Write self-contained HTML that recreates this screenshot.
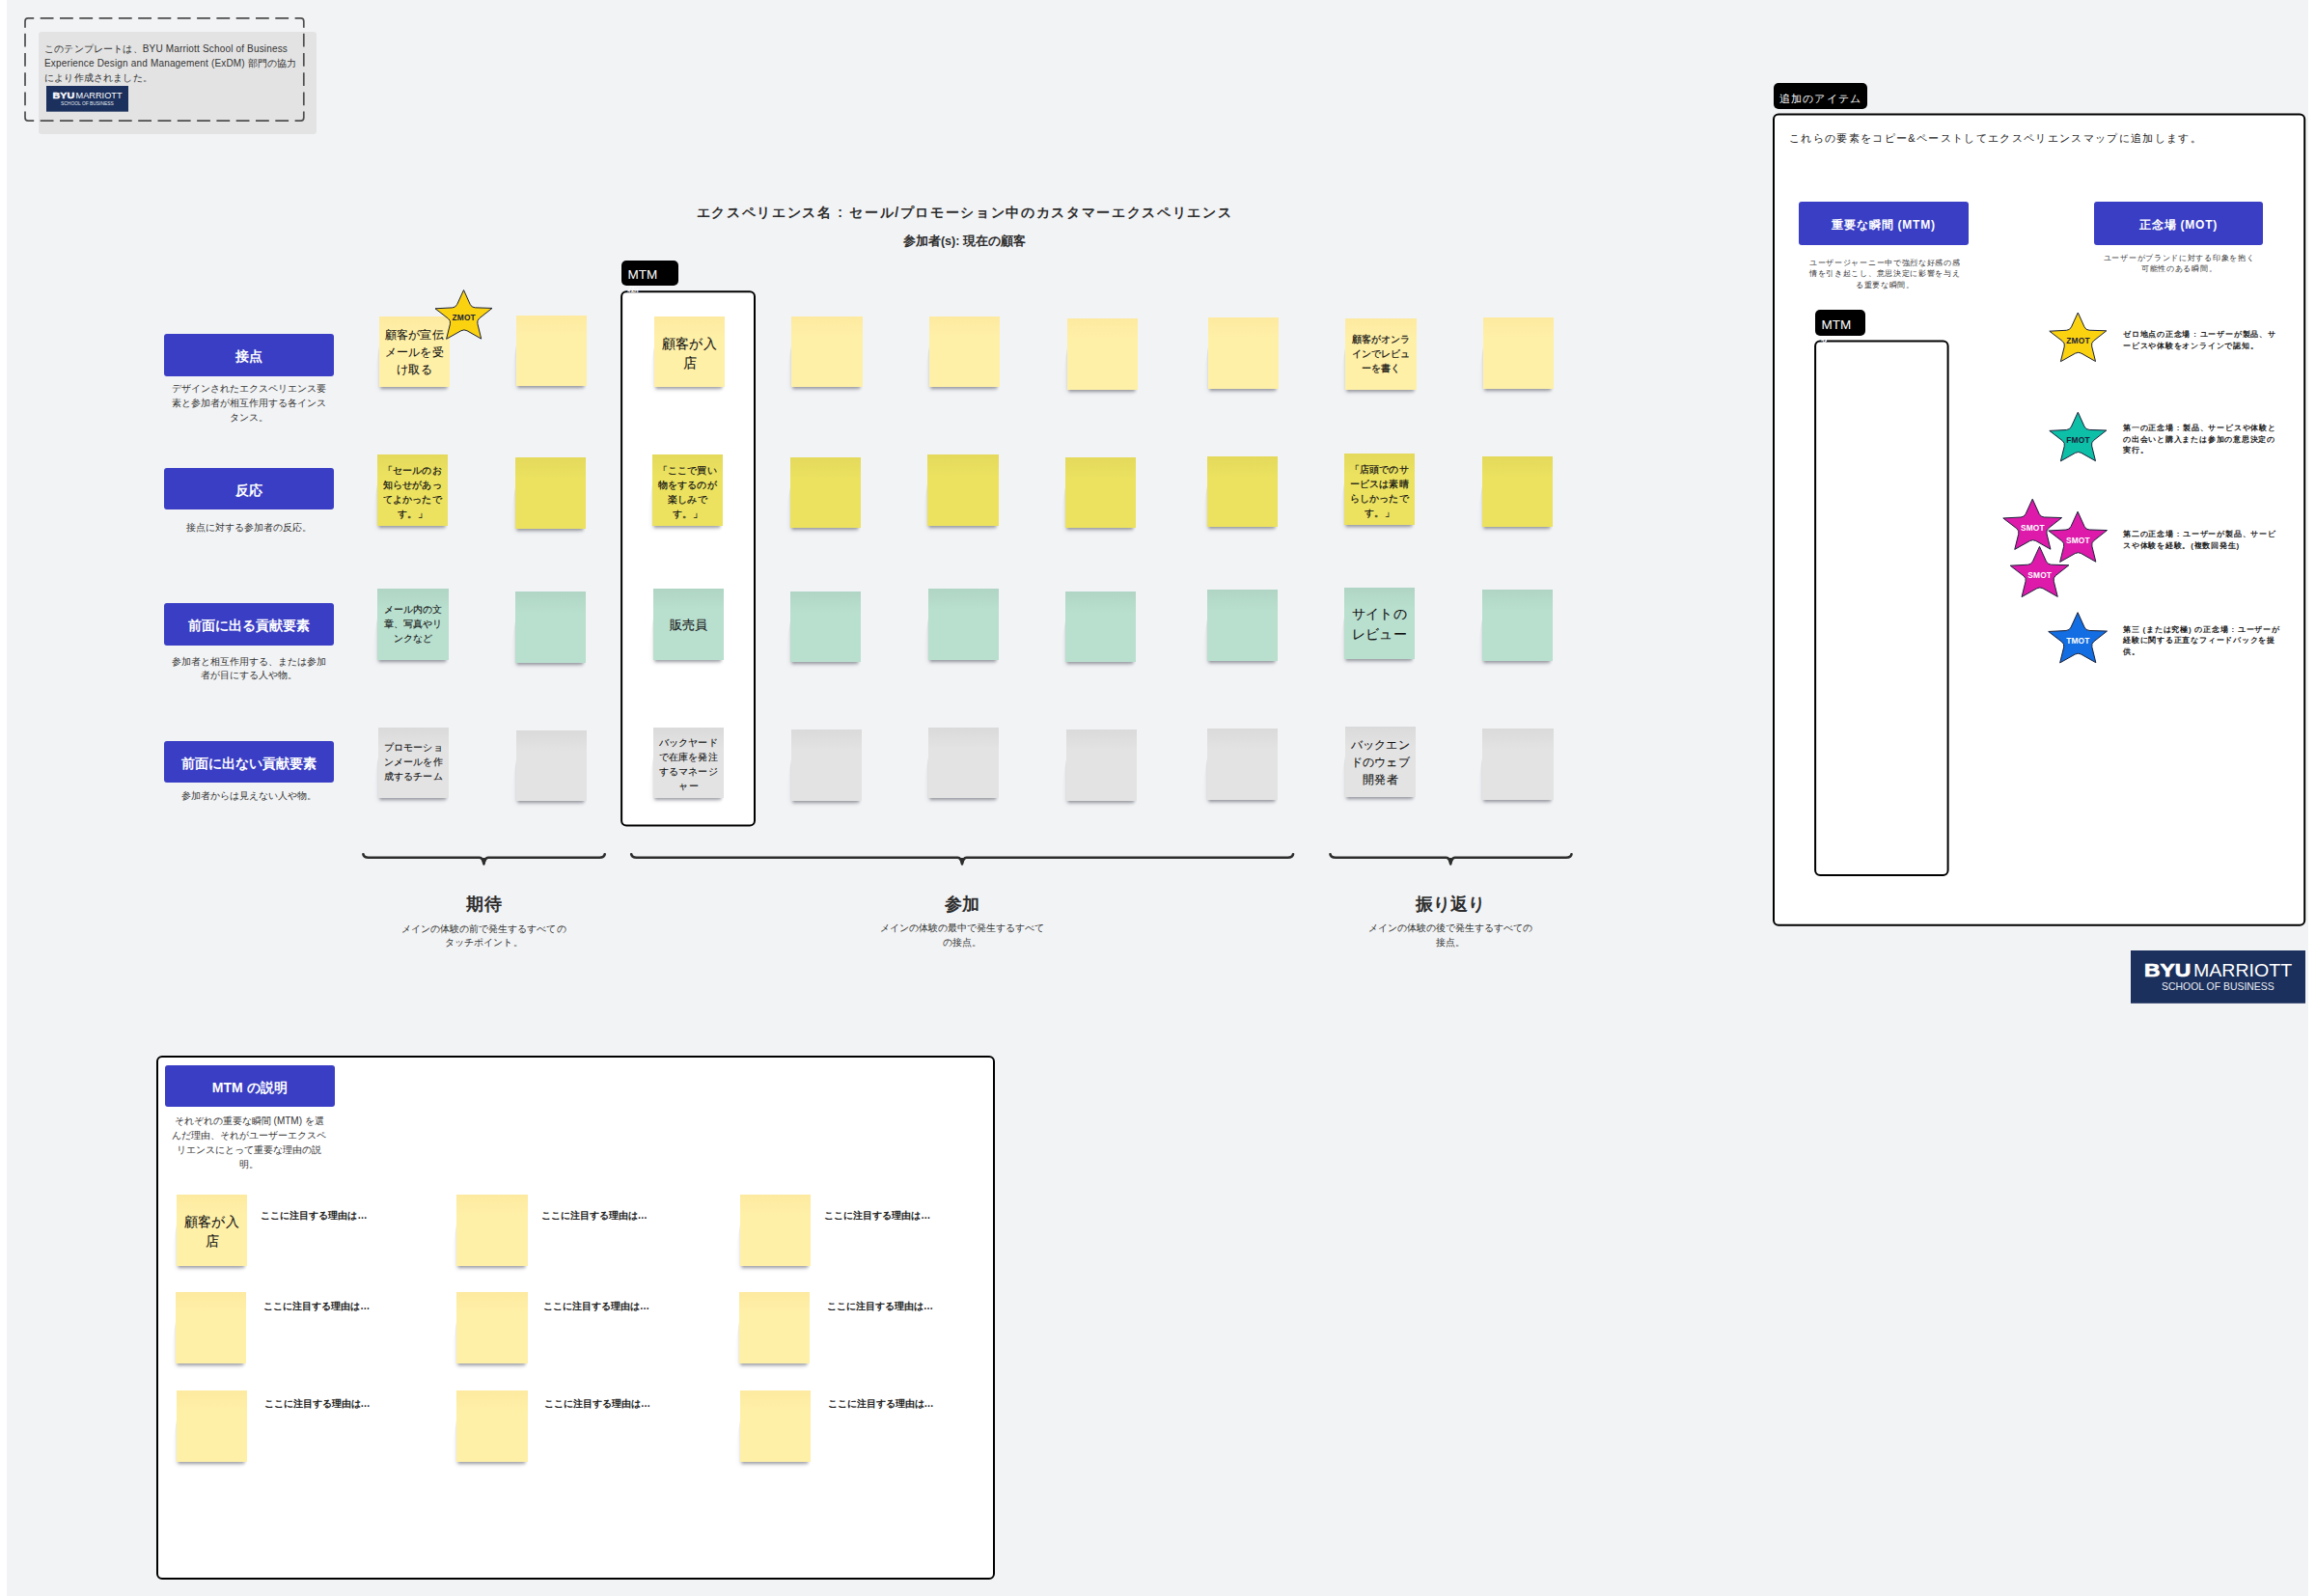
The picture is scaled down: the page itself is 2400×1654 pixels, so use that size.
<!DOCTYPE html><html lang="ja"><head><meta charset="utf-8"><title>Experience Map</title><style>
*{box-sizing:border-box;margin:0;padding:0}
html,body{width:2400px;height:1654px;background:#fff;overflow:hidden}
body{font-family:"Liberation Sans",sans-serif;color:#333;position:relative}
#bg{position:absolute;left:7px;top:0;width:2385px;height:1654px;background:#f2f3f5}
.a{position:absolute}
.svg{position:absolute;left:0;top:0;width:2400px;height:1654px;overflow:visible}
.st{position:absolute;color:#111;clip-path:polygon(0 0,100% 0,100% 120%,-8px 120%,-8px 100%,0 42%);

 box-shadow:-1px 3.5px 3px -1.5px rgba(38,42,58,.38),-2.5px 5px 5px -2.5px rgba(38,42,58,.12)}
.t{position:absolute;left:-20px;right:-20px;text-align:center;white-space:nowrap;-webkit-text-stroke:.1px #111}
.y1{background:linear-gradient(#fdeaa0 0,#fff0a8 30%,#fff0a8 100%)}
.y2{background:linear-gradient(#e4d95b 0,#ece260 30%,#ece260 100%)}
.g{background:linear-gradient(#b0d5c4 0,#b9dfcf 30%,#b9dfcf 100%)}
.k{background:linear-gradient(#dadada 0,#e3e3e3 30%,#e3e3e3 100%)}
.lb{position:absolute;padding-top:3px;background:#3a3ec4;border-radius:3px;color:#fff;font-weight:bold;font-size:14px;line-height:20px;display:flex;align-items:center;justify-content:center;white-space:nowrap}
.d{position:absolute;text-align:center;font-size:10px;line-height:14.8px;color:#333;white-space:nowrap}
.ph{position:absolute;text-align:center;font-size:18px;font-weight:bold;color:#2d2d2d;white-space:nowrap;line-height:24px}
.why{position:absolute;font-size:10px;font-weight:bold;color:#222;white-space:nowrap;line-height:14px}
.j{display:block;white-space:nowrap;text-align:justify;text-align-last:justify}
.jc{margin:0 auto}
.p{display:block;white-space:nowrap}
.tag{position:absolute;background:#000;border-radius:5px;color:#fff;white-space:nowrap}
.sd{position:absolute;font-size:8px;font-weight:bold;letter-spacing:.78px;line-height:11.5px;color:#222;white-space:nowrap}
.pd{position:absolute;text-align:center;font-size:8px;letter-spacing:.7px;line-height:11.5px;color:#333;white-space:nowrap}
</style></head><body><div id="bg"></div>
<div class="a" style="left:40px;top:32.5px;width:288.2px;height:106.2px;background:#e3e3e3;border-radius:3px"></div>
<div class="a" style="left:46px;top:43.1px;font-size:10px;line-height:15.1px;letter-spacing:.17px;color:#333;white-space:nowrap"><div class="j" style="width:252.06px">このテンプレートは、BYU Marriott School of Business</div><div class="j" style="width:261.67px">Experience Design and Management (ExDM) 部門の協力</div><div class="j" style="width:111.9px">により作成されました。</div></div>
<svg class="a" style="left:48px;top:89.2px" width="85" height="26.7" viewBox="0 0 181 54.8" preserveAspectRatio="none"><rect width="181" height="54.8" fill="#1b305c"/><text x="13.9" y="27.3" font-family="Liberation Sans" font-weight="bold" font-size="19" fill="#fff" stroke="#fff" stroke-width=".7" textLength="48.3" lengthAdjust="spacingAndGlyphs">BYU</text><text x="65" y="27.3" font-family="Liberation Sans" font-size="19" fill="#fff" textLength="102.2" lengthAdjust="spacingAndGlyphs">MARRIOTT</text><text x="32.1" y="41.4" font-family="Liberation Sans" font-size="10" fill="#e8ebf2" textLength="116.6" lengthAdjust="spacingAndGlyphs">SCHOOL OF BUSINESS</text></svg>
<svg class="svg" viewBox="0 0 2400 1654">
<g fill="none" stroke="#4d4d4d" stroke-width="1.7"><path d="M26,28.7V22Q26,18.9 29.1,18.9H35.2M305.6,18.9H311.7Q314.8,18.9 314.8,22V28.7M26,115.5V122Q26,125.1 29.1,125.1H35.2M305.6,125.1H311.7Q314.8,125.1 314.8,122V115.5"/><path d="M41.7,18.9H299.2M41.7,125.1H299.2" stroke-dasharray="13.8 6.5"/><path d="M26,34.8V109.3M314.8,34.8V109.3" stroke-dasharray="13.8 6.4"/></g>
<rect x="644.1" y="302.2" width="137.9" height="553.3" rx="5" fill="#fff" stroke="#000" stroke-width="2"/>
<rect x="163" y="1095" width="867" height="541" rx="5" fill="#fff" stroke="#000" stroke-width="2"/>
<rect x="1838" y="118.4" width="550.2" height="840.3" rx="5" fill="#fff" stroke="#000" stroke-width="2"/>
<rect x="1881.1" y="353.6" width="137.5" height="553.5" rx="5" fill="#fff" stroke="#000" stroke-width="2"/>
<path d="M376.4,885.2 Q376.7,888.7 381.9,888.7 H496.9 Q500.4,888.9 501.4,895.3 Q502.4,888.9 505.9,888.7 H621.2 Q626.4,888.7 626.7,885.2" fill="none" stroke="#2d2d2d" stroke-width="2.6" stroke-linecap="round" stroke-linejoin="round"/><path d="M498.1,888.9 L504.7,888.9 L501.4,897.3 Z" fill="#2d2d2d"/>
<path d="M654.2,885.2 Q654.5,888.7 659.7,888.7 H992.5 Q996,888.9 997,895.3 Q998,888.9 1001.5,888.7 H1334.5 Q1339.7,888.7 1340,885.2" fill="none" stroke="#2d2d2d" stroke-width="2.6" stroke-linecap="round" stroke-linejoin="round"/><path d="M993.7,888.9 L1000.3,888.9 L997,897.3 Z" fill="#2d2d2d"/>
<path d="M1378.5,885.2 Q1378.8,888.7 1384,888.7 H1498.7 Q1502.2,888.9 1503.2,895.3 Q1504.2,888.9 1507.7,888.7 H1623 Q1628.2,888.7 1628.5,885.2" fill="none" stroke="#2d2d2d" stroke-width="2.6" stroke-linecap="round" stroke-linejoin="round"/><path d="M1499.9,888.9 L1506.5,888.9 L1503.2,897.3 Z" fill="#2d2d2d"/>
</svg>
<div class="a" style="left:599.6px;top:210.4px;width:800px;text-align:center;font-size:14px;line-height:20px;font-weight:bold;letter-spacing:1.67px;color:#2d2d2d;white-space:nowrap"><div class="j jc" style="width:555.82px">エクスペリエンス名 : セール/プロモーション中のカスタマーエクスペリエンス</div></div>
<div class="a" style="left:799.4px;top:241px;width:400px;text-align:center;font-size:12.5px;line-height:18px;font-weight:bold;color:#2d2d2d;white-space:nowrap"><div class="j jc" style="width:126.95px">参加者(s): 現在の顧客</div></div>
<div class="tag" style="left:644px;top:269.8px;width:59.2px;height:26.5px;font-size:13.5px;line-height:16px;padding:7.6px 0 0 6.4px">MTM</div>
<div class="tag" style="left:1881.1px;top:321.3px;width:51.6px;height:26.3px;font-size:13.5px;line-height:16px;padding:7.4px 0 0 6.4px">MTM</div>
<div class="a" style="left:650.3px;top:296px;width:12px;height:7.2px;overflow:hidden;color:#fff;font-size:13.5px;line-height:16px"><div style="margin-top:-1.5px">例</div></div>
<div class="a" style="left:1887px;top:347.6px;width:6px;height:7.2px;overflow:hidden;color:#fff;font-size:13.5px;line-height:16px"><div style="margin-top:-1.5px">例</div></div>
<div class="tag" style="left:1837.8px;top:86.3px;width:97.4px;height:26.5px;font-size:11px;letter-spacing:1.2px;line-height:16px;padding:7.6px 0 0 6px"><div class="j" style="width:85.43px">追加のアイテム</div></div>
<div class="lb" style="left:170px;top:345.8px;width:175.7px;height:43.9px"><div class="j jc" style="width:28.02px">接点</div></div>
<div class="d" style="left:107.8px;top:396.1px;width:300px;line-height:14.8px"><div class="j jc" style="width:160.02px">デザインされたエクスペリエンス要</div><div class="j jc" style="width:160.02px">素と参加者が相互作用する各インス</div><div class="j jc" style="width:40.02px">タンス。</div></div>
<div class="lb" style="left:170px;top:485px;width:175.7px;height:43.4px"><div class="j jc" style="width:28.02px">反応</div></div>
<div class="d" style="left:107.8px;top:539.8px;width:300px;line-height:14.8px"><div class="j jc" style="width:130.02px">接点に対する参加者の反応。</div></div>
<div class="lb" style="left:170px;top:625.3px;width:175.7px;height:43.4px"><div class="j jc" style="width:126.02px">前面に出る貢献要素</div></div>
<div class="d" style="left:107.8px;top:678.7px;width:300px;line-height:14.8px"><div class="j jc" style="width:160.02px">参加者と相互作用する、または参加</div><div class="j jc" style="width:100.02px">者が目にする人や物。</div></div>
<div class="lb" style="left:170px;top:767.8px;width:175.7px;height:42.8px"><div class="j jc" style="width:140.02px">前面に出ない貢献要素</div></div>
<div class="d" style="left:107.8px;top:817.6px;width:300px;line-height:14.8px"><div class="j jc" style="width:140.02px">参加者からは見えない人や物。</div></div>
<div class="st y1" style="left:393px;top:328px;width:73px;height:73px"><div class="t" style="top:10.3px;font-size:12.3px;line-height:18px"><div class="j jc" style="width:60.02px">顧客が宣伝</div><div class="j jc" style="width:60.02px">メールを受</div><div class="j jc" style="width:36.02px">け取る</div></div></div>
<div class="st y1" style="left:535px;top:327px;width:73px;height:73px"></div>
<div class="st y1" style="left:678px;top:328px;width:73px;height:73px"><div class="t" style="top:18.6px;font-size:13.5px;line-height:20px"><div class="j jc" style="width:56.02px">顧客が入</div><div class="p" style="text-align:center">店</div></div></div>
<div class="st y1" style="left:820px;top:328px;width:74px;height:73px"></div>
<div class="st y1" style="left:963px;top:328px;width:73px;height:73px"></div>
<div class="st y1" style="left:1106px;top:330px;width:73px;height:74px"></div>
<div class="st y1" style="left:1252px;top:329px;width:73px;height:74px"></div>
<div class="st y1" style="left:1394px;top:330px;width:74px;height:74px"><div class="t" style="top:14.38px;font-size:10px;line-height:15.05px;-webkit-text-stroke:.22px #111"><div class="j jc" style="width:60.02px">顧客がオンラ</div><div class="j jc" style="width:60.02px">インでレビュ</div><div class="j jc" style="width:40.02px">ーを書く</div></div></div>
<div class="st y1" style="left:1537px;top:329px;width:73px;height:74px"></div>
<div class="st y2" style="left:391px;top:471px;width:73px;height:74px"><div class="t" style="top:8.6px;font-size:10px;line-height:15.2px;-webkit-text-stroke:.22px #111"><div class="j jc" style="width:60.02px">「セールのお</div><div class="j jc" style="width:60.02px">知らせがあっ</div><div class="j jc" style="width:60.02px">てよかったで</div><div class="j jc" style="width:30.02px">す。」</div></div></div>
<div class="st y2" style="left:534px;top:474px;width:73px;height:74px"></div>
<div class="st y2" style="left:676px;top:471px;width:73px;height:74px"><div class="t" style="top:8.6px;font-size:10px;line-height:15.2px;-webkit-text-stroke:.22px #111"><div class="j jc" style="width:60.02px">「ここで買い</div><div class="j jc" style="width:60.02px">物をするのが</div><div class="j jc" style="width:40.02px">楽しみで</div><div class="j jc" style="width:30.02px">す。」</div></div></div>
<div class="st y2" style="left:819px;top:474px;width:73px;height:73px"></div>
<div class="st y2" style="left:961px;top:471px;width:74px;height:74px"></div>
<div class="st y2" style="left:1104px;top:474px;width:73px;height:73px"></div>
<div class="st y2" style="left:1251px;top:473px;width:73px;height:73px"></div>
<div class="st y2" style="left:1393px;top:470px;width:73px;height:74px"><div class="t" style="top:8.95px;font-size:10px;line-height:15.1px;-webkit-text-stroke:.22px #111"><div class="j jc" style="width:60.02px">「店頭でのサ</div><div class="j jc" style="width:60.02px">ービスは素晴</div><div class="j jc" style="width:60.02px">らしかったで</div><div class="j jc" style="width:30.02px">す。」</div></div></div>
<div class="st y2" style="left:1536px;top:473px;width:73px;height:73px"></div>
<div class="st g" style="left:391px;top:610px;width:74px;height:74px"><div class="t" style="top:14.2px;font-size:10px;line-height:15px"><div class="j jc" style="width:60.02px">メール内の文</div><div class="j jc" style="width:60.02px">章、写真やリ</div><div class="j jc" style="width:40.02px">ンクなど</div></div></div>
<div class="st g" style="left:534px;top:613px;width:73px;height:74px"></div>
<div class="st g" style="left:677px;top:610px;width:73px;height:74px"><div class="t" style="top:28.2px;font-size:13.4px;line-height:20px"><div class="j jc" style="width:39.02px">販売員</div></div></div>
<div class="st g" style="left:819px;top:613px;width:73px;height:73px"></div>
<div class="st g" style="left:962px;top:610px;width:73px;height:74px"></div>
<div class="st g" style="left:1104px;top:613px;width:73px;height:73px"></div>
<div class="st g" style="left:1251px;top:611px;width:73px;height:74px"></div>
<div class="st g" style="left:1393px;top:609px;width:73px;height:74px"><div class="t" style="top:18.1px;font-size:13.5px;line-height:20.4px"><div class="j jc" style="width:56.02px">サイトの</div><div class="j jc" style="width:56.02px">レビュー</div></div></div>
<div class="st g" style="left:1536px;top:611px;width:73px;height:74px"></div>
<div class="st k" style="left:392px;top:754px;width:73px;height:73px"><div class="t" style="top:14.35px;font-size:10px;line-height:14.9px"><div class="j jc" style="width:60.02px">プロモーショ</div><div class="j jc" style="width:60.02px">ンメールを作</div><div class="j jc" style="width:60.02px">成するチーム</div></div></div>
<div class="st k" style="left:535px;top:757px;width:73px;height:73px"></div>
<div class="st k" style="left:677px;top:754px;width:73px;height:73px"><div class="t" style="top:8.15px;font-size:10px;line-height:15.1px"><div class="j jc" style="width:60.02px">バックヤード</div><div class="j jc" style="width:60.02px">で在庫を発注</div><div class="j jc" style="width:60.02px">するマネージ</div><div class="j jc" style="width:20.02px">ャー</div></div></div>
<div class="st k" style="left:820px;top:756px;width:73px;height:74px"></div>
<div class="st k" style="left:962px;top:754px;width:73px;height:73px"></div>
<div class="st k" style="left:1105px;top:756px;width:73px;height:74px"></div>
<div class="st k" style="left:1251px;top:755px;width:73px;height:74px"></div>
<div class="st k" style="left:1394px;top:753px;width:73px;height:73px"><div class="t" style="top:10.1px;font-size:12.2px;line-height:18px"><div class="j jc" style="width:60.02px">バックエン</div><div class="j jc" style="width:60.02px">ドのウェブ</div><div class="j jc" style="width:36.02px">開発者</div></div></div>
<div class="st k" style="left:1536px;top:755px;width:74px;height:74px"></div>
<div class="ph" style="left:351.5px;top:924.8px;width:300px"><div class="j jc" style="width:36.02px">期待</div></div>
<div class="d" style="left:351.5px;top:955.7px;width:300px;line-height:14.8px"><div class="j jc" style="width:170.02px">メインの体験の前で発生するすべての</div><div class="j jc" style="width:80.02px">タッチポイント。</div></div>
<div class="ph" style="left:846.6px;top:924.8px;width:300px"><div class="j jc" style="width:36.02px">参加</div></div>
<div class="d" style="left:846.6px;top:955.4px;width:300px;line-height:14.8px"><div class="j jc" style="width:170.02px">メインの体験の最中で発生するすべて</div><div class="j jc" style="width:40.02px">の接点。</div></div>
<div class="ph" style="left:1353.3px;top:924.8px;width:300px"><div class="j jc" style="width:72.02px">振り返り</div></div>
<div class="d" style="left:1353.3px;top:955.4px;width:300px;line-height:14.8px"><div class="j jc" style="width:170.02px">メインの体験の後で発生するすべての</div><div class="j jc" style="width:30.02px">接点。</div></div>
<div class="lb" style="left:171px;top:1104px;width:175.5px;height:43.1px"><div class="j jc" style="width:77.79px">MTM の説明</div></div>
<div class="d" style="left:108.3px;top:1154px;width:300px;line-height:15px"><div class="j jc" style="width:155.02px">それぞれの重要な瞬間 (MTM) を選</div><div class="j jc" style="width:160.02px">んだ理由、それがユーザーエクスペ</div><div class="j jc" style="width:150.02px">リエンスにとって重要な理由の説</div><div class="j jc" style="width:20.02px">明。</div></div>
<div class="st y1" style="left:183px;top:1238px;width:73px;height:74px"><div class="t" style="top:18.95px;font-size:13.5px;line-height:19.7px"><div class="j jc" style="width:56.02px">顧客が入</div><div class="p" style="text-align:center">店</div></div></div>
<div class="st y1" style="left:473px;top:1238px;width:74px;height:74px"></div>
<div class="st y1" style="left:767px;top:1238px;width:73px;height:74px"></div>
<div class="why" style="left:270.4px;top:1253.4px"><div class="j" style="width:110.02px">ここに注目する理由は…</div></div>
<div class="why" style="left:560.8px;top:1253.4px"><div class="j" style="width:110.02px">ここに注目する理由は…</div></div>
<div class="why" style="left:854.2px;top:1253.4px"><div class="j" style="width:110.02px">ここに注目する理由は…</div></div>
<div class="st y1" style="left:182px;top:1339px;width:73px;height:74px"></div>
<div class="st y1" style="left:473px;top:1339px;width:74px;height:74px"></div>
<div class="st y1" style="left:766px;top:1339px;width:73px;height:74px"></div>
<div class="why" style="left:273.2px;top:1346.7px"><div class="j" style="width:110.02px">ここに注目する理由は…</div></div>
<div class="why" style="left:563.1px;top:1346.7px"><div class="j" style="width:110.02px">ここに注目する理由は…</div></div>
<div class="why" style="left:856.9px;top:1346.7px"><div class="j" style="width:110.02px">ここに注目する理由は…</div></div>
<div class="st y1" style="left:183px;top:1441px;width:73px;height:74px"></div>
<div class="st y1" style="left:473px;top:1441px;width:74px;height:74px"></div>
<div class="st y1" style="left:767px;top:1441px;width:73px;height:74px"></div>
<div class="why" style="left:273.6px;top:1448.1px"><div class="j" style="width:110.02px">ここに注目する理由は…</div></div>
<div class="why" style="left:563.9px;top:1448.1px"><div class="j" style="width:110.02px">ここに注目する理由は…</div></div>
<div class="why" style="left:857.6px;top:1448.1px"><div class="j" style="width:110.02px">ここに注目する理由は…</div></div>
<div class="a" style="left:1854px;top:135px;font-size:11px;letter-spacing:1.33px;line-height:16px;color:#222;white-space:nowrap"><div class="j" style="width:427.92px">これらの要素をコピー&amp;ペーストしてエクスペリエンスマップに追加します。</div></div>
<div class="lb" style="left:1864.3px;top:209px;width:175.6px;height:44.8px;font-size:12px;letter-spacing:.8px"><div class="j jc" style="width:107.48px">重要な瞬間 (MTM)</div></div>
<div class="lb" style="left:2169.9px;top:209px;width:175.3px;height:44.8px;font-size:12px;letter-spacing:.8px"><div class="j jc" style="width:81.21px">正念場 (MOT)</div></div>
<div class="pd" style="left:1803.3px;top:266.65px;width:300px;line-height:11.5px"><div class="j jc" style="width:156.63px">ユーザージャーニー中で強烈な好感の感</div><div class="j jc" style="width:156.63px">情を引き起こし、意思決定に影響を与え</div><div class="j jc" style="width:60.93px">る重要な瞬間。</div></div>
<div class="pd" style="left:2108.1px;top:261.85px;width:300px;line-height:11.5px"><div class="j jc" style="width:156.63px">ユーザーがブランドに対する印象を抱く</div><div class="j jc" style="width:78.34px">可能性のある瞬間。</div></div>
<div class="sd" style="left:2200px;top:341.3px;line-height:11.6px"><div class="j" style="width:158.74px">ゼロ地点の正念場 : ユーザーが製品、サ</div><div class="j" style="width:140.51px">ービスや体験をオンラインで認知。</div></div>
<div class="sd" style="left:2200px;top:438.3px;line-height:11.4px"><div class="j" style="width:158.74px">第一の正念場 : 製品、サービスや体験と</div><div class="j" style="width:158.07px">の出会いと購入または参加の意思決定の</div><div class="j" style="width:26.37px">実行。</div></div>
<div class="sd" style="left:2200px;top:548px;line-height:11.6px"><div class="j" style="width:158.74px">第二の正念場 : ユーザーが製品、サービ</div><div class="j" style="width:121.06px">スや体験を経験。(複数回発生)</div></div>
<div class="sd" style="left:2200px;top:646.55px;line-height:11.5px"><div class="j" style="width:162.85px">第三 (または究極) の正念場 : ユーザーが</div><div class="j" style="width:158.07px">経験に関する正直なフィードバックを提</div><div class="j" style="width:17.59px">供。</div></div>
<svg class="a" style="left:2208px;top:985px" width="181" height="54.8" viewBox="0 0 181 54.8" preserveAspectRatio="none"><rect width="181" height="54.8" fill="#1b305c"/><text x="13.9" y="27.3" font-family="Liberation Sans" font-weight="bold" font-size="19" fill="#fff" stroke="#fff" stroke-width=".7" textLength="48.3" lengthAdjust="spacingAndGlyphs">BYU</text><text x="65" y="27.3" font-family="Liberation Sans" font-size="19" fill="#fff" textLength="102.2" lengthAdjust="spacingAndGlyphs">MARRIOTT</text><text x="32.1" y="41.4" font-family="Liberation Sans" font-size="10" fill="#e8ebf2" textLength="116.6" lengthAdjust="spacingAndGlyphs">SCHOOL OF BUSINESS</text></svg>
<svg class="svg" viewBox="0 0 2400 1654">
<path d="M480.5,300.6L487.21,315.42Q488.7,318.7 492.3,318.82L510,319.4L496.83,329.77Q494,332 494.86,335.5L498.7,351.1L484.03,342.78Q480.9,341 477.76,342.77L462.6,351.3L466.44,335.79Q467.3,332.3 464.44,330.11L451,319.8L468.6,318.89Q472.2,318.7 473.7,315.43Z" fill="#fbd20f" stroke="#1a2038" stroke-width="1" stroke-linejoin="miter" stroke-miterlimit="8"/><text x="480.7" y="332.3" text-anchor="middle" font-family="Liberation Sans" font-weight="bold" font-size="8.4" letter-spacing=".15" fill="#1a2038">ZMOT</text>
<path d="M2153.3,324L2160.01,338.82Q2161.5,342.1 2165.1,342.22L2182.8,342.8L2169.63,353.17Q2166.8,355.4 2167.66,358.9L2171.5,374.5L2156.83,366.18Q2153.7,364.4 2150.56,366.17L2135.4,374.7L2139.24,359.19Q2140.1,355.7 2137.24,353.51L2123.8,343.2L2141.4,342.29Q2145,342.1 2146.5,338.83Z" fill="#fbd20f" stroke="#1a2038" stroke-width="1" stroke-linejoin="miter" stroke-miterlimit="8"/><text x="2153.5" y="356.1" text-anchor="middle" font-family="Liberation Sans" font-weight="bold" font-size="8.4" letter-spacing=".15" fill="#1a2038">ZMOT</text>
<path d="M2153.3,427.2L2160.01,442.02Q2161.5,445.3 2165.1,445.42L2182.8,446L2169.63,456.37Q2166.8,458.6 2167.66,462.1L2171.5,477.7L2156.83,469.38Q2153.7,467.6 2150.56,469.37L2135.4,477.9L2139.24,462.39Q2140.1,458.9 2137.24,456.71L2123.8,446.4L2141.4,445.49Q2145,445.3 2146.5,442.03Z" fill="#0cbfa6" stroke="#1a2038" stroke-width="1" stroke-linejoin="miter" stroke-miterlimit="8"/><text x="2153.5" y="459" text-anchor="middle" font-family="Liberation Sans" font-weight="bold" font-size="8.4" letter-spacing=".15" fill="#1a2038">FMOT</text>
<path d="M2106.2,517.2L2113.16,532.56Q2114.65,535.84 2118.24,535.96L2136.59,536.56L2122.93,547.31Q2120.11,549.54 2120.97,553.04L2124.95,569.22L2109.74,560.59Q2106.61,558.81 2103.47,560.58L2087.76,569.42L2091.74,553.35Q2092.6,549.85 2089.75,547.66L2075.81,536.98L2094.06,536.03Q2097.65,535.84 2099.15,532.57Z" fill="#dd1aaa" stroke="#1a2038" stroke-width="1" stroke-linejoin="miter" stroke-miterlimit="8"/><text x="2106.4" y="549.9" text-anchor="middle" font-family="Liberation Sans" font-weight="bold" font-size="8.4" letter-spacing=".15" fill="#fff">SMOT</text>
<path d="M2153.1,530.2L2160.06,545.56Q2161.55,548.84 2165.14,548.96L2183.49,549.56L2169.83,560.31Q2167.01,562.54 2167.87,566.04L2171.85,582.22L2156.64,573.59Q2153.51,571.81 2150.37,573.58L2134.66,582.42L2138.64,566.35Q2139.5,562.85 2136.65,560.66L2122.71,549.98L2140.96,549.03Q2144.55,548.84 2146.05,545.57Z" fill="#dd1aaa" stroke="#1a2038" stroke-width="1" stroke-linejoin="miter" stroke-miterlimit="8"/><text x="2153.3" y="562.7" text-anchor="middle" font-family="Liberation Sans" font-weight="bold" font-size="8.4" letter-spacing=".15" fill="#fff">SMOT</text>
<path d="M2113.5,566.4L2120.46,581.76Q2121.95,585.04 2125.54,585.16L2143.89,585.76L2130.23,596.51Q2127.41,598.74 2128.27,602.24L2132.25,618.41L2117.04,609.79Q2113.91,608.01 2110.77,609.78L2095.06,618.62L2099.04,602.55Q2099.9,599.05 2097.05,596.86L2083.11,586.18L2101.36,585.23Q2104.95,585.04 2106.45,581.77Z" fill="#dd1aaa" stroke="#1a2038" stroke-width="1" stroke-linejoin="miter" stroke-miterlimit="8"/><text x="2113.7" y="598.9" text-anchor="middle" font-family="Liberation Sans" font-weight="bold" font-size="8.4" letter-spacing=".15" fill="#fff">SMOT</text>
<path d="M2153.1,634.7L2160.06,650.06Q2161.55,653.34 2165.14,653.46L2183.49,654.06L2169.83,664.81Q2167.01,667.04 2167.87,670.54L2171.85,686.72L2156.64,678.09Q2153.51,676.31 2150.37,678.08L2134.66,686.92L2138.64,670.85Q2139.5,667.35 2136.65,665.16L2122.71,654.48L2140.96,653.53Q2144.55,653.34 2146.05,650.07Z" fill="#126ee2" stroke="#1a2038" stroke-width="1" stroke-linejoin="miter" stroke-miterlimit="8"/><text x="2153.3" y="667.3" text-anchor="middle" font-family="Liberation Sans" font-weight="bold" font-size="8.4" letter-spacing=".15" fill="#fff">TMOT</text>
</svg>
</body></html>
